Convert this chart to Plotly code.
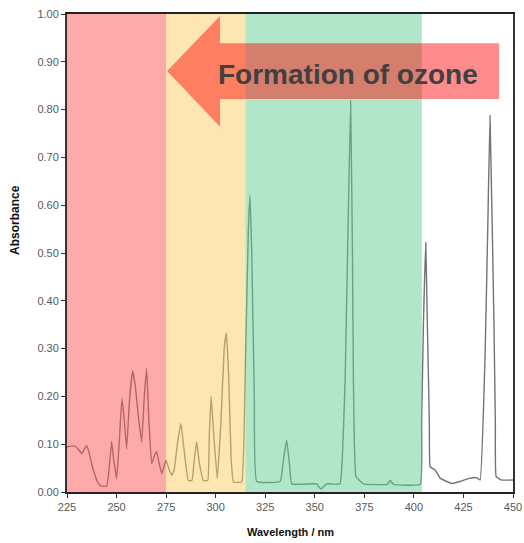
import plotly.graph_objects as go

wavelength = [225, 227, 229, 231, 232.5, 234, 235, 236, 237.5, 239.1, 240.5, 242, 245,
              246.3, 247.5, 248.5, 250, 251.3, 252.7, 253.7, 255.1, 256.5, 258.1, 259.5, 261.2,
              262.7, 264, 265.2, 266.3, 267.7, 269, 270.2, 271.5, 272.8, 274, 275, 276.3, 277.8,
              279, 281, 282.5, 284, 286.2, 288, 289.3, 290.4, 291.8, 293.8, 296, 296.8, 297.7,
              298.7, 300.8, 302.7, 304.3, 305.4, 306.5, 307.8, 309, 313.1, 314.8, 316.5, 317.3,
              318.2, 319.5, 320.7, 332.5, 334.3, 335.8, 337.2, 338.4, 351, 353, 356, 362.7, 364,
              365.3, 367, 368.1, 369, 369.5, 370.8, 374.5, 386.5, 388.1, 389.7, 403.2, 403.9,
              404.8, 406, 406.8, 407.8, 408.2, 410.7, 413.2, 419, 423.3, 428.3, 431.7, 433.4,
              435.9, 437.3, 438.4, 440.4, 441.1, 441.5, 444.3, 450]
absorbance = [0.094, 0.096, 0.096, 0.088, 0.080, 0.092, 0.097, 0.085, 0.058, 0.035, 0.020, 0.013, 0.012,
              0.050, 0.106, 0.070, 0.028, 0.100, 0.195, 0.160, 0.090, 0.190, 0.253, 0.220, 0.150,
              0.105, 0.200, 0.258, 0.150, 0.059, 0.075, 0.085, 0.060, 0.038, 0.055, 0.066, 0.050, 0.035,
              0.045, 0.110, 0.143, 0.090, 0.024, 0.024, 0.070, 0.105, 0.060, 0.024, 0.024, 0.120, 0.200,
              0.140, 0.028, 0.150, 0.300, 0.333, 0.250, 0.070, 0.021, 0.021, 0.234, 0.550, 0.621,
              0.500, 0.200, 0.022, 0.022, 0.070, 0.109, 0.060, 0.017, 0.017, 0.006, 0.017, 0.017, 0.080,
              0.234, 0.600, 0.818, 0.500, 0.230, 0.032, 0.017, 0.016, 0.024, 0.016, 0.016, 0.144,
              0.350, 0.522, 0.350, 0.144, 0.053, 0.046, 0.029, 0.018, 0.022, 0.029, 0.030, 0.025,
              0.283, 0.560, 0.787, 0.350, 0.144, 0.032, 0.025, 0.025]

band_edges = [225, 275, 315, 404]
band_colors = ["rgb(255,85,85)", "rgb(252,206,100)", "rgb(100,205,145)"]
x_ticks = [225, 250, 275, 300, 325, 350, 375, 400, 425, 450]
y_ticks = [0.0, 0.1, 0.2, 0.3, 0.4, 0.5, 0.6, 0.7, 0.8, 0.9, 1.0]
label_text = "Formation of ozone"
x_title = "Wavelength / nm"
y_title = "Absorbance"

FONT = "Liberation Sans, Arial, sans-serif"

fig = go.Figure()
fig.add_trace(go.Scatter(x=wavelength, y=absorbance, mode="lines",
                         line=dict(color="rgb(115,115,115)", width=1.4, shape="spline", smoothing=0.3),
                         hoverinfo="skip", showlegend=False))

shapes = []
for i, c in enumerate(band_colors):
    shapes.append(dict(type="rect", xref="x", yref="y", x0=band_edges[i], x1=band_edges[i + 1],
                       y0=0, y1=1, fillcolor=c, opacity=0.5, line=dict(width=0), layer="above"))

shapes.append(dict(type="path", xref="x", yref="y",
                   path="M 302.2,0.939 L 443,0.939 L 443,0.822 L 302.2,0.822 L 302.2,0.764 L 275.5,0.881 L 302.2,0.996 Z",
                   fillcolor="rgba(255,0,0,0.45)", line=dict(width=0), layer="above"))

fig.update_layout(
    width=524, height=543,
    margin=dict(l=67, r=11, t=14, b=51),
    paper_bgcolor="white", plot_bgcolor="white",
    shapes=shapes,
    showlegend=False,
    font=dict(family=FONT),
    annotations=[
        dict(x=366.8, y=0.874, xref="x", yref="y", text="<b>" + label_text + "</b>",
             showarrow=False, font=dict(size=28, color="#404040", family=FONT)),
        dict(x=-0.1166, y=0.569, xref="paper", yref="paper", text="<b>" + y_title + "</b>",
             xanchor="center", yanchor="middle",
             textangle=-90, showarrow=False, font=dict(size=12, color="#111", family=FONT)),
        dict(x=0.5, y=-0.084, xref="paper", yref="paper", text="<b>" + x_title + "</b>",
             xanchor="center", yanchor="middle",
             showarrow=False, font=dict(size=11, color="#111", family=FONT)),
    ],
    xaxis=dict(range=[225, 450], tickvals=x_ticks, ticks="outside", ticklen=4, tickcolor="#333",
               showgrid=False, zeroline=False, showline=True, linecolor="#222", linewidth=2, mirror=True,
               tickfont=dict(size=11, color="#595959"), automargin=False),
    yaxis=dict(range=[0, 1], tickvals=y_ticks, tickformat=".2f", ticks="outside", ticklen=4, tickcolor="#333",
               showgrid=False, zeroline=False, showline=True, linecolor="#333", linewidth=2, mirror=True,
               tickfont=dict(size=11, color="#595959"), automargin=False),
)

fig.write_html("out.html")
